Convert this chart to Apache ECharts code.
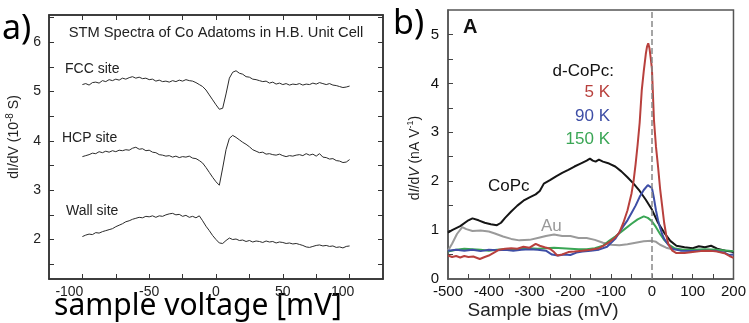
<!DOCTYPE html>
<html>
<head>
<meta charset="utf-8">
<script src="https://cdn.jsdelivr.net/npm/echarts@6/dist/echarts.min.js"></script>
<style>
html, body { margin: 0; padding: 0; background: #fff; }
#chart { width: 749px; height: 323px; }
</style>
</head>
<body>
<div id="chart"></div>
<script>
// panel a) - STM spectra, sample voltage in mV
const voltA = [-100,-97.5,-95,-92.5,-90,-87.5,-85,-82.5,-80,-77.5,-75,-72.5,-70,-67.5,-65,-62.5,-60,-57.5,-55,-52.5,
    -50,-47.5,-45,-42.5,-40,-37.5,-35,-32.5,-30,-27.5,-25,-22.5,-20,-17.5,-15,-12.5,-10,-7.5,-5,-2.5,
    0,2.5,5,7.5,10,12.5,15,17.5,20,22.5,25,27.5,30,32.5,35,37.5,40,42.5,45,47.5,
    50,52.5,55,57.5,60,62.5,65,67.5,70,72.5,75,77.5,80,82.5,85,87.5,90,92.5,95,97.5,100];
const fccSite = [5.14,5.16,5.13,5.18,5.19,5.17,5.22,5.2,5.24,5.22,5.25,5.23,5.27,5.25,5.28,5.3,5.27,5.29,5.26,5.27,
    5.24,5.25,5.21,5.23,5.2,5.21,5.19,5.22,5.2,5.23,5.21,5.24,5.22,5.21,5.18,5.14,5.1,5.03,4.93,4.83,
    4.73,4.64,4.66,4.95,5.27,5.39,5.42,5.37,5.35,5.3,5.29,5.25,5.24,5.22,5.2,5.21,5.17,5.19,5.15,5.17,
    5.14,5.16,5.13,5.15,5.14,5.16,5.13,5.15,5.14,5.17,5.15,5.18,5.16,5.14,5.16,5.13,5.12,5.1,5.08,5.09,5.11];
const hcpSite = [3.68,3.7,3.72,3.75,3.74,3.78,3.76,3.79,3.77,3.8,3.78,3.81,3.8,3.82,3.81,3.85,3.87,3.83,3.84,3.8,
    3.81,3.77,3.76,3.72,3.71,3.69,3.7,3.67,3.69,3.66,3.68,3.67,3.69,3.65,3.64,3.6,3.55,3.46,3.36,3.26,
    3.17,3.1,3.45,3.82,4.05,4.11,4.07,4.02,3.97,3.93,3.88,3.82,3.79,3.76,3.77,3.73,3.74,3.72,3.71,3.73,
    3.7,3.68,3.7,3.69,3.71,3.72,3.7,3.74,3.71,3.73,3.69,3.74,3.67,3.66,3.63,3.64,3.6,3.59,3.56,3.57,3.62];
const wallSite = [2.06,2.09,2.11,2.1,2.14,2.13,2.16,2.18,2.2,2.22,2.26,2.29,2.32,2.36,2.38,2.41,2.43,2.45,2.44,2.47,
    2.46,2.48,2.45,2.48,2.47,2.5,2.52,2.53,2.5,2.51,2.47,2.49,2.45,2.47,2.44,2.48,2.38,2.27,2.18,2.08,
    2.0,1.93,1.92,1.98,2.03,2.0,2.01,1.98,1.99,1.96,1.98,1.95,1.97,1.96,1.94,1.97,1.95,1.96,1.93,1.95,
    1.94,1.92,1.93,1.91,1.92,1.9,1.88,1.85,1.84,1.86,1.88,1.89,1.87,1.88,1.86,1.87,1.84,1.85,1.83,1.86,1.87];

// panel b) - dI/dV vs sample bias in mV
const k5Bias = [-500,-490,-480,-470,-460,-450,-438,-422,-410,-400,-385,-375,-360,-345,-330,-315,-300,-285,-275,-263,
    -250,-240,-232,-220,-205,-190,-170,-150,-130,-115,-100,-90,-80,-70,-60,-50,-45,-40,-35,-30,
    -25,-20,-15,-12,-9,-6,-3,0,5,10,15,20,25,30,35,40,50,60,80,100,120,140,150,160,180,190,200];
const k5Val = [0.48,0.45,0.47,0.44,0.47,0.45,0.46,0.41,0.45,0.48,0.55,0.6,0.62,0.63,0.62,0.66,0.64,0.72,0.68,0.65,
    0.62,0.55,0.48,0.5,0.55,0.56,0.58,0.6,0.63,0.7,0.78,0.85,0.95,1.15,1.4,1.75,2.0,2.35,2.75,3.2,
    3.85,4.25,4.6,4.75,4.82,4.72,4.52,4.3,3.25,2.7,2.3,1.85,1.5,1.15,0.9,0.72,0.58,0.53,0.53,0.55,0.57,0.58,0.57,0.56,0.52,0.47,0.43];
const k90Bias = [-500,-480,-460,-440,-420,-400,-380,-360,-340,-320,-300,-280,-260,-245,-230,-215,-200,-185,-170,-150,
    -130,-110,-90,-80,-70,-60,-50,-40,-30,-20,-10,-6,0,5,10,15,20,25,30,40,50,70,100,130,160,180,190,200];
const k90Val = [0.58,0.6,0.58,0.6,0.57,0.6,0.59,0.6,0.58,0.6,0.61,0.6,0.58,0.5,0.48,0.5,0.49,0.54,0.56,0.58,
    0.6,0.66,0.82,0.95,1.08,1.2,1.35,1.5,1.68,1.82,1.92,1.94,1.86,1.65,1.4,1.2,1.05,0.92,0.82,0.7,0.62,0.58,0.57,0.58,0.57,0.53,0.49,0.5];
const k150Bias = [-500,-480,-460,-440,-420,-400,-380,-360,-340,-320,-300,-280,-260,-240,-220,-200,-180,-160,-140,-120,
    -105,-90,-70,-50,-35,-20,-10,0,10,20,30,40,55,75,100,130,160,200];
const k150Val = [0.56,0.6,0.62,0.61,0.6,0.58,0.6,0.61,0.6,0.62,0.63,0.62,0.63,0.64,0.63,0.62,0.61,0.61,0.63,0.68,
    0.78,0.87,1.0,1.13,1.22,1.28,1.25,1.18,1.06,0.92,0.8,0.71,0.63,0.6,0.6,0.61,0.6,0.57];
const copcBias = [-500,-490,-470,-450,-440,-425,-410,-395,-380,-370,-360,-345,-330,-315,-300,-285,-275,-265,-250,-235,
    -220,-205,-190,-175,-160,-152,-145,-138,-130,-120,-105,-90,-75,-60,-45,-30,-15,0,15,30,
    45,60,80,100,115,130,145,160,180,200];
const copcVal = [0.95,1.0,1.08,1.2,1.24,1.2,1.15,1.12,1.1,1.15,1.25,1.38,1.5,1.6,1.67,1.73,1.8,1.95,2.02,2.1,
    2.17,2.23,2.3,2.36,2.42,2.46,2.42,2.4,2.44,2.4,2.36,2.3,2.2,2.08,1.95,1.8,1.62,1.42,1.15,0.95,
    0.78,0.68,0.65,0.63,0.67,0.65,0.68,0.62,0.58,0.55];
const auBias = [-500,-490,-478,-465,-455,-440,-420,-400,-385,-365,-345,-325,-300,-280,-260,-240,-220,-200,-180,-160,
    -140,-120,-100,-80,-60,-40,-20,0,10,20,35,50,75,100,150,200];
const auVal = [0.58,0.72,0.92,1.06,1.02,0.98,0.99,0.97,0.93,0.87,0.82,0.79,0.8,0.84,0.88,0.91,0.88,0.88,0.84,0.84,
    0.8,0.74,0.7,0.69,0.71,0.74,0.77,0.78,0.76,0.7,0.64,0.61,0.6,0.59,0.58,0.57];

const zip = (xs, ys) => xs.map((x, i) => [x, ys[i]]);

const chart = echarts.init(document.getElementById("chart"));
const font = "Liberation Sans, Arial, sans-serif";

const tickA = [-100,-75,-50,-25,0,25,50,75,100];
const tickAy = [1.5,2,2.5,3,3.5,4,4.5,5,5.5,6,6.5];
const tickB = [-450,-400,-350,-300,-250,-200,-150,-100,-50,0,50,100,150];
const tickBy = [0.5,1,1.5,2,2.5,3,3.5,4,4.5,5];

function lineA(data) {
    return { type: "line", xAxisIndex: 0, yAxisIndex: 0, data: data, showSymbol: false, silent: true,
        lineStyle: { color: "#2a2a2a", width: 1 } };
}
function lineB(data, color, extra) {
    return Object.assign({ type: "line", xAxisIndex: 2, yAxisIndex: 2, data: data, showSymbol: false, silent: true,
        lineStyle: { color: color, width: 2 } }, extra || {});
}

const option = {
    animation: false,
    grid: [
        { left: 49, top: 15, width: 334, height: 264, show: true, borderColor: "#333", borderWidth: 1.5 },
        { left: 448, top: 10, width: 288, height: 269, show: true, borderColor: "#555", borderWidth: 1.5 }
    ],
    xAxis: [
        { gridIndex: 0, type: "value", min: -125, max: 125,
          axisLine: { onZero: false, lineStyle: { color: "#333", width: 1.5 } },
          axisTick: { inside: true, length: 5, customValues: tickA, lineStyle: { color: "#333" } },
          axisLabel: { customValues: [-100, -50, 0, 50, 100], fontSize: 14, margin: 6, color: "#222", fontFamily: font,
              // the printed labels sit a little left of their ticks at the ends
              formatter: v => v === -100 ? "{l|-100}" : v === 100 ? "{m|100}" : String(v),
              rich: { l: { fontSize: 14, fontFamily: font, color: "#222", padding: [0, 26, 0, 0] },
                      m: { fontSize: 14, fontFamily: font, color: "#222", padding: [0, 14, 0, 0] } } },
          splitLine: { show: false } },
        { gridIndex: 0, type: "value", position: "top", min: -125, max: 125,
          axisLine: { onZero: false, lineStyle: { color: "#333", width: 1.5 } },
          axisTick: { inside: true, length: 5, customValues: tickA, lineStyle: { color: "#333" } },
          axisLabel: { show: false }, splitLine: { show: false } },
        { gridIndex: 1, type: "value", min: -500, max: 200, interval: 100,
          axisLine: { onZero: false, lineStyle: { color: "#555", width: 1.5 } },
          axisTick: { inside: true, length: 5, customValues: tickB, lineStyle: { color: "#444" } },
          axisLabel: { fontSize: 15, margin: 5, color: "#111", fontFamily: font },
          splitLine: { show: false } }
    ],
    yAxis: [
        { gridIndex: 0, type: "value", min: 1.2, max: 6.55,
          axisLine: { onZero: false, lineStyle: { color: "#333", width: 1.5 } },
          axisTick: { inside: true, length: 5, customValues: tickAy, lineStyle: { color: "#333" } },
          axisLabel: { customValues: [2, 3, 4, 5, 6], fontSize: 14, margin: 8, color: "#222", fontFamily: font },
          splitLine: { show: false } },
        { gridIndex: 0, type: "value", position: "right", min: 1.2, max: 6.55,
          axisLine: { onZero: false, lineStyle: { color: "#333", width: 1.5 } },
          axisTick: { inside: true, length: 5, customValues: tickAy, lineStyle: { color: "#333" } },
          axisLabel: { show: false }, splitLine: { show: false } },
        { gridIndex: 1, type: "value", min: 0, max: 5.5,
          axisLine: { onZero: false, lineStyle: { color: "#555", width: 1.5 } },
          axisTick: { inside: true, length: 5, customValues: tickBy, lineStyle: { color: "#444" } },
          axisLabel: { customValues: [0, 1, 2, 3, 4, 5], fontSize: 15, margin: 9, color: "#111", fontFamily: font },
          splitLine: { show: false } }
    ],
    series: [
        lineA(zip(voltA, fccSite)),
        lineA(zip(voltA, hcpSite)),
        lineA(zip(voltA, wallSite)),
        lineB(zip(auBias, auVal), "#9a9a9a"),
        lineB(zip(copcBias, copcVal), "#151515"),
        lineB(zip(k150Bias, k150Val), "#3aa655"),
        lineB(zip(k90Bias, k90Val), "#3e4ea6"),
        lineB(zip(k5Bias, k5Val), "#b8403d", {
            markLine: { silent: true, symbol: "none", label: { show: false },
                lineStyle: { color: "#888", type: "dashed", width: 1.5 },
                data: [{ xAxis: 0 }] }
        })
    ],
    graphic: [
        // panel letters
        { type: "text", x: 2, y: 46, style: { text: "a)", font: "34px 'Noto Sans'", fill: "#000", verticalAlign: "bottom" } },
        { type: "text", x: 393, y: 41, style: { text: "b)", font: "34px 'Noto Sans'", fill: "#000", verticalAlign: "bottom" } },
        // panel a texts
        { type: "text", x: 216, y: 33, style: { text: "STM Spectra of Co Adatoms in H.B. Unit Cell", font: "14.7px " + font, fill: "#222", align: "center", verticalAlign: "middle" } },
        { type: "text", x: 65, y: 69, style: { text: "FCC site", font: "14px " + font, fill: "#222", verticalAlign: "middle" } },
        { type: "text", x: 62, y: 138, style: { text: "HCP site", font: "14px " + font, fill: "#222", verticalAlign: "middle" } },
        { type: "text", x: 66, y: 211, style: { text: "Wall site", font: "14px " + font, fill: "#222", verticalAlign: "middle" } },
        { type: "text", x: 14, y: 137, rotation: Math.PI / 2,
          style: { text: "{a|dI/dV (10}{s|-8}{a| S)}", align: "center", verticalAlign: "middle",
            rich: { a: { fontSize: 14, fontFamily: font, fill: "#222", lineHeight: 18 },
                    s: { fontSize: 10, fontFamily: font, fill: "#222", verticalAlign: "top", lineHeight: 18 } } } },
        { type: "text", x: 198, y: 306, style: { text: "sample voltage [mV]", font: "30px 'Noto Sans'", fill: "#000", align: "center", verticalAlign: "middle" } },
        // panel b texts
        { type: "text", x: 463, y: 27, style: { text: "A", font: "bold 20px " + font, fill: "#111", verticalAlign: "middle" } },
        { type: "text", x: 614, y: 71, style: { text: "d-CoPc:", font: "17px " + font, fill: "#111", align: "right", verticalAlign: "middle" } },
        { type: "text", x: 610, y: 92, style: { text: "5 K", font: "17px " + font, fill: "#b8403d", align: "right", verticalAlign: "middle" } },
        { type: "text", x: 610, y: 116, style: { text: "90 K", font: "17px " + font, fill: "#3e4ea6", align: "right", verticalAlign: "middle" } },
        { type: "text", x: 610, y: 139, style: { text: "150 K", font: "17px " + font, fill: "#3aa655", align: "right", verticalAlign: "middle" } },
        { type: "text", x: 488, y: 186, style: { text: "CoPc", font: "17px " + font, fill: "#111", verticalAlign: "middle" } },
        { type: "text", x: 541, y: 226, style: { text: "Au", font: "17px " + font, fill: "#999", verticalAlign: "middle" } },
        { type: "text", x: 415, y: 158, rotation: Math.PI / 2,
          style: { text: "{a|d}{i|I}{a|/d}{i|V}{a| (nA V}{s|-1}{a|)}", align: "center", verticalAlign: "middle",
            rich: { a: { fontSize: 14, fontFamily: font, fill: "#222", lineHeight: 18 },
                    i: { fontSize: 14, fontFamily: font, fontStyle: "italic", fill: "#222", lineHeight: 18 },
                    s: { fontSize: 9, fontFamily: font, fill: "#222", verticalAlign: "top", lineHeight: 18 } } } },
        { type: "text", x: 543, y: 311, style: { text: "Sample bias (mV)", font: "19px " + font, fill: "#222", align: "center", verticalAlign: "middle" } }
    ]
};
chart.setOption(option);
window.addEventListener("resize", () => chart.resize());
</script>
</body>
</html>
